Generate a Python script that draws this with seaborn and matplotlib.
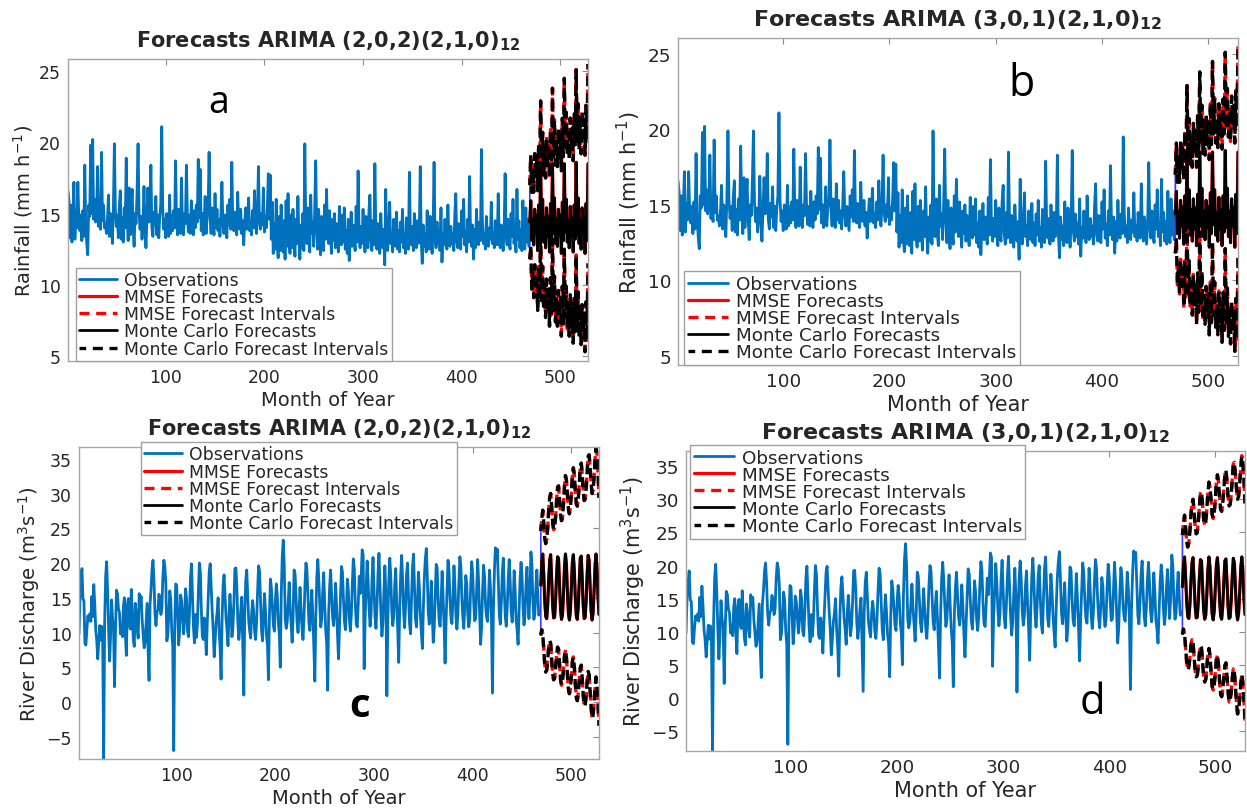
import numpy as np
import matplotlib
matplotlib.use("Agg")
import matplotlib.pyplot as plt
import seaborn as sns

# ---------------- data ----------------
# monthly rainfall observations, months 1..468
rain_obs = [
    16.6, 15.9, 13.3, 15.6, 13.0, 14.8, 17.2, 13.2, 15.1, 14.0, 17.2, 14.6,
    13.8, 14.9, 13.1, 15.2, 13.4, 18.4, 14.2, 12.9, 12.1, 15.6, 14.8, 19.8,
    15.0, 20.2, 14.6, 16.0, 14.4, 15.2, 18.3, 14.1, 14.8, 13.9, 19.3, 14.5,
    15.6, 14.0, 14.2, 13.6, 14.6, 16.3, 13.4, 15.0, 14.3, 12.9, 15.4, 19.9,
    15.3, 14.1, 14.9, 13.3, 15.5, 16.6, 13.2, 14.7, 13.0, 15.4, 14.0, 18.9,
    14.6, 13.1, 16.8, 13.5, 15.2, 16.7, 14.1, 12.7, 15.0, 14.3, 16.6, 19.9,
    15.1, 13.9, 14.8, 13.2, 14.2, 16.9, 14.0, 12.6, 14.7, 16.8, 14.4, 15.2,
    18.4, 14.0, 13.4, 15.1, 14.2, 16.2, 13.5, 14.9, 13.3, 14.8, 15.6, 21.1,
    15.4, 13.9, 14.6, 13.3, 15.0, 14.1, 13.4, 16.3, 13.6, 14.9, 13.8, 15.2,
    14.0, 18.7, 14.5, 13.5, 15.3, 14.4, 13.6, 17.5, 14.1, 13.5, 15.0, 14.3,
    18.4, 14.8, 13.7, 14.9, 13.6, 15.9, 14.3, 13.5, 15.2, 14.0, 15.6, 14.4,
    18.8, 14.7, 18.1, 13.8, 15.0, 13.5, 14.4, 16.2, 13.6, 14.8, 15.3, 19.3,
    14.6, 13.6, 15.4, 14.2, 13.5, 16.4, 14.0, 15.3, 13.8, 14.6, 13.4, 15.0,
    17.2, 14.3, 13.6, 14.9, 14.1, 13.3, 15.6, 14.2, 16.0, 13.9, 18.6, 14.5,
    13.8, 15.1, 14.0, 13.5, 16.5, 14.3, 13.9, 15.3, 13.6, 14.5, 12.8, 14.2,
    15.4, 13.9, 14.6, 16.1, 13.8, 14.4, 13.5, 15.2, 14.0, 16.6, 14.3, 13.6,
    15.1, 18.3, 14.5, 13.9, 15.0, 14.2, 16.8, 13.7, 14.8, 14.0, 15.4, 17.8,
    14.6, 17.7, 13.2, 15.8, 12.2, 14.3, 12.5, 16.0, 12.8, 11.9, 14.8, 12.4,
    15.6, 13.0, 12.3, 14.5, 11.8, 15.9, 12.7, 16.4, 13.1, 12.2, 14.9, 12.6,
    15.3, 13.4, 12.0, 14.6, 12.9, 16.2, 13.3, 11.8, 14.2, 12.6, 15.0, 12.4,
    19.9, 14.1, 12.9, 15.4, 13.2, 12.3, 16.3, 13.6, 14.4, 12.7, 15.1, 18.7,
    14.0, 12.5, 15.3, 13.4, 12.1, 14.8, 13.0, 12.4, 15.6, 13.2, 16.7, 13.8,
    12.9, 15.2, 13.5, 12.2, 14.6, 13.1, 15.0, 12.6, 14.3, 13.4, 12.3, 15.5,
    13.2, 12.8, 14.9, 13.0, 15.4, 12.5, 13.8, 12.2, 14.6, 11.7, 13.5, 15.1,
    12.7, 14.2, 13.3, 12.4, 15.5, 13.0, 18.0, 13.6, 12.6, 14.1, 12.9, 15.3,
    13.4, 12.3, 14.8, 13.0, 12.6, 15.2, 16.3, 13.1, 12.4, 14.5, 12.8, 18.5,
    13.7, 12.5, 14.3, 13.1, 12.2, 15.0, 13.4, 12.6, 13.9, 11.4, 16.7, 13.0,
    12.4, 14.0, 15.8, 12.9, 13.6, 12.3, 14.6, 13.2, 12.7, 15.1, 12.5, 13.8,
    12.3, 14.4, 13.0, 15.3, 12.6, 13.5, 12.2, 14.7, 13.3, 12.5, 17.9, 13.4,
    12.8, 14.1, 12.4, 15.0, 13.2, 12.6, 14.5, 12.9, 13.7, 18.3, 13.1, 11.5,
    14.2, 12.7, 13.6, 12.3, 15.2, 13.0, 12.5, 14.8, 13.4, 12.2, 14.0, 18.6,
    13.3, 12.6, 14.4, 12.9, 13.8, 12.4, 15.4, 11.6, 13.5, 12.8, 14.6, 13.1,
    12.5, 15.6, 13.2, 12.7, 14.1, 12.9, 13.6, 12.4, 14.9, 16.4, 13.0, 12.6,
    14.3, 13.1, 12.5, 15.2, 13.4, 16.0, 12.8, 13.7, 12.3, 14.6, 13.0, 17.6,
    13.5, 12.7, 14.2, 11.8, 13.9, 12.6, 15.3, 13.2, 12.8, 14.4, 13.1, 19.5,
    14.4, 12.9, 13.6, 12.5, 14.8, 13.3, 12.7, 14.0, 13.2, 15.8, 12.9, 13.6,
    12.6, 14.5, 13.2, 12.8, 16.4, 13.5, 12.6, 14.2, 13.3, 12.4, 13.9, 17.8,
    13.6, 12.8, 14.6, 13.1, 12.5, 15.0, 13.4, 16.0, 12.9, 13.7, 12.3, 16.7,
    13.2, 14.5, 12.6, 13.9, 12.4, 15.9, 13.3, 12.5, 15.4, 13.0, 14.6, 12.7,
]

# rainfall forecasts, months 469..528
rain_fc = [
    14.4, 15.9, 13.1, 14.6, 12.8, 15.3, 13.6, 14.9, 12.4, 15.6, 13.3, 18.4,
    13.5, 16.0, 13.0, 14.7, 12.6, 15.4, 13.4, 14.8, 12.3, 15.7, 13.2, 18.5,
    13.6, 16.1, 12.9, 14.6, 12.7, 15.3, 13.5, 14.9, 12.2, 15.8, 13.1, 18.5,
    13.7, 16.0, 13.0, 14.5, 12.6, 15.5, 13.4, 14.7, 12.3, 15.6, 13.2, 18.6,
    13.5, 16.1, 12.9, 14.6, 12.5, 15.4, 13.6, 14.8, 12.2, 15.7, 13.1, 18.5,
]
rain_hi = [
    17.0, 19.1, 16.5, 18.2, 16.5, 19.2, 17.6, 19.0, 16.6, 19.9, 17.7, 22.9,
    18.1, 20.7, 17.7, 19.5, 17.5, 20.4, 18.4, 19.9, 17.5, 20.9, 18.5, 23.8,
    19.0, 21.6, 18.4, 20.2, 18.3, 21.0, 19.2, 20.7, 18.0, 21.7, 19.0, 24.5,
    19.7, 22.1, 19.1, 20.7, 18.8, 21.7, 19.7, 21.0, 18.7, 22.0, 19.7, 25.1,
    20.0, 22.7, 19.5, 21.3, 19.2, 22.2, 20.4, 21.6, 19.1, 22.6, 20.1, 25.5,
]
rain_lo = [
    11.8, 12.7, 9.7, 11.0, 9.1, 11.4, 9.6, 10.8, 8.2, 11.3, 8.9, 13.9,
    8.9, 11.3, 8.3, 9.9, 7.7, 10.4, 8.4, 9.7, 7.1, 10.5, 7.9, 13.2,
    8.2, 10.6, 7.4, 9.0, 7.1, 9.6, 7.8, 9.1, 6.4, 9.9, 7.2, 12.5,
    7.7, 9.9, 6.9, 8.3, 6.4, 9.3, 7.1, 8.4, 5.9, 9.2, 6.7, 12.1,
    7.0, 9.5, 6.3, 7.9, 5.8, 8.6, 6.8, 8.0, 5.3, 8.8, 6.1, 11.5,
]

# monthly river discharge observations, months 1..468
flow_obs = [
    9.8, 15.0, 17.5, 19.2, 14.8, 14.6, 8.4, 8.2, 10.5, 12.4, 11.8, 12.7,
    11.6, 15.2, 12.3, 16.9, 14.0, 10.3, 8.8, 6.2, 8.6, 11.0, 8.9, 10.9,
    8.8, -8.2, 11.5, 18.1, 20.2, 16.0, 10.5, 5.9, 9.5, 14.7, 12.0, 10.8,
    2.2, 10.4, 16.1, 15.6, 13.4, 12.9, 9.8, 11.0, 9.4, 13.8, 15.0, 9.6,
    6.7, 13.9, 14.9, 11.2, 10.5, 16.2, 12.6, 9.1, 8.0, 14.2, 12.8, 10.4,
    9.2, 15.6, 14.3, 15.2, 11.8, 9.7, 7.8, 8.5, 11.3, 14.2, 7.6, 3.1,
    14.1, 16.2, 19.1, 20.4, 17.4, 12.7, 11.0, 12.9, 13.2, 15.5, 14.8, 12.6,
    13.5, 18.0, 20.4, 19.5, 17.0, 8.8, 9.7, 12.5, 16.0, 14.8, 10.2, 8.0,
    -7.0, 11.0, 17.0, 16.8, 12.7, 8.2, 10.4, 15.4, 14.6, 12.3, 9.8, 11.7,
    16.3, 14.9, 10.2, 9.4, 13.0, 18.0, 19.9, 15.1, 10.8, 8.5, 12.6, 9.3,
    11.2, 16.0, 20.0, 18.6, 13.2, 9.4, 9.0, 12.1, 10.5, 6.8, 11.4, 15.2,
    18.9, 19.9, 16.4, 13.0, 10.3, 6.5, 8.9, 11.6, 12.9, 15.0, 10.4, 7.7,
    3.3, 11.8, 16.7, 18.3, 15.4, 12.1, 10.4, 8.1, 12.6, 15.5, 12.8, 9.4,
    10.8, 14.3, 19.2, 19.3, 16.5, 11.4, 9.0, 10.7, 13.4, 15.1, 8.4, 1.0,
    12.9, 17.5, 19.0, 15.2, 11.6, 10.2, 9.2, 12.8, 14.6, 13.0, 10.1, 9.0,
    11.6, 16.0, 19.6, 18.8, 14.4, 10.3, 8.8, 12.4, 15.6, 13.1, 9.6, 8.2,
    3.2, 12.5, 17.7, 16.4, 13.6, 11.0, 10.2, 14.5, 17.0, 15.2, 11.4, 9.8,
    5.0, 15.6, 21.0, 23.3, 19.8, 12.0, 10.6, 11.5, 14.4, 17.2, 13.6, 11.0,
    8.6, 12.4, 19.0, 18.4, 14.9, 11.5, 10.0, 12.8, 16.5, 13.4, 10.6, 9.0,
    12.0, 16.8, 20.0, 19.1, 15.3, 11.4, 10.3, 13.7, 16.1, 12.3, 8.0, 3.0,
    12.2, 17.9, 20.5, 17.8, 14.0, 10.8, 11.9, 15.9, 18.6, 14.2, 10.5, 8.4,
    1.7, 12.6, 16.6, 19.0, 15.5, 12.2, 11.0, 13.0, 17.1, 14.0, 9.6, 6.2,
    10.8, 15.3, 19.5, 18.7, 14.9, 11.6, 10.4, 13.6, 17.7, 16.0, 11.9, 10.2,
    12.5, 17.0, 20.6, 19.2, 14.3, 11.2, 10.8, 14.1, 18.1, 15.6, 18.2, 21.9,
    21.2, 4.8, 12.1, 16.4, 20.3, 17.5, 13.4, 10.9, 12.6, 17.8, 20.8, 16.2,
    12.2, 10.6, 13.9, 18.4, 21.4, 17.0, 12.6, 9.5, 11.4, 15.8, 19.6, 15.5,
    0.9, 11.8, 17.6, 20.7, 18.0, 13.1, 11.0, 12.4, 16.9, 19.2, 14.3, 10.5,
    5.7, 13.3, 18.3, 21.1, 17.6, 12.9, 10.7, 13.8, 18.5, 20.0, 15.2, 11.3,
    9.8, 14.9, 19.4, 21.3, 16.8, 12.0, 10.8, 14.2, 18.7, 16.4, 12.5, 9.9,
    7.7, 13.5, 18.0, 20.6, 22.1, 18.0, 12.8, 11.2, 14.1, 17.4, 12.6, 8.6,
    10.6, 15.4, 19.8, 19.3, 14.6, 11.6, 10.9, 14.5, 18.8, 15.2, 11.0, 5.6,
    11.4, 16.2, 20.4, 18.9, 14.8, 12.0, 11.3, 15.0, 19.6, 16.7, 12.4, 10.5,
    12.7, 17.4, 20.9, 19.5, 15.1, 12.1, 10.6, 13.9, 18.2, 16.9, 12.6, 10.8,
    11.9, 16.8, 20.2, 18.4, 14.4, 11.7, 12.0, 16.1, 20.5, 17.3, 12.8, 8.3,
    10.7, 15.9, 19.7, 18.1, 14.0, 12.3, 11.6, 14.9, 19.0, 16.5, 12.1, 1.3,
    13.4, 18.7, 22.2, 21.3, 22.0, 17.2, 12.4, 11.2, 14.3, 18.6, 20.7, 16.0,
    12.3, 10.9, 13.6, 17.8, 20.5, 17.4, 13.0, 11.5, 14.0, 18.9, 16.1, 11.8,
    10.4, 8.3, 13.2, 17.6, 20.1, 18.2, 13.7, 11.1, 12.6, 16.8, 19.4, 15.3,
    12.0, 15.6, 21.6, 19.8, 14.6, 11.9, 12.7, 16.4, 19.0, 15.2, 12.5, 13.0,
]

# river discharge forecasts, months 469..528
flow_fc = [
    16.8, 20.2, 21.3, 18.4, 14.6, 12.3, 12.0, 13.9, 17.5, 20.4, 21.2, 17.8,
    13.9, 12.1, 12.2, 14.6, 18.3, 20.9, 20.7, 16.9, 13.3, 11.9, 12.5, 15.6,
    19.4, 21.3, 19.8, 15.8, 12.7, 11.8, 13.1, 16.6, 20.1, 21.2, 18.9, 14.9,
    12.4, 11.9, 13.8, 17.4, 20.7, 21.0, 17.7, 13.9, 12.0, 12.2, 14.7, 18.5,
    21.1, 20.4, 16.6, 13.1, 11.8, 12.8, 15.9, 19.6, 21.3, 19.2, 15.0, 12.6,
]
flow_hi = [
    24.6, 26.4, 27.6, 25.8, 23.6, 22.8, 23.4, 25.0, 27.6, 29.4, 30.0, 28.2,
    25.9, 24.8, 25.0, 26.6, 29.0, 30.9, 31.1, 29.2, 27.0, 26.1, 26.5, 28.5,
    31.0, 32.6, 31.9, 29.8, 27.7, 27.1, 27.9, 30.0, 32.5, 33.7, 32.7, 30.4,
    28.5, 28.2, 29.3, 31.4, 33.7, 34.4, 32.8, 30.4, 29.0, 29.2, 30.7, 33.1,
    35.4, 35.6, 33.8, 31.5, 30.0, 30.5, 32.4, 34.9, 36.6, 35.6, 33.0, 29.4,
]
flow_lo = [
    9.6, 10.4, 9.8, 7.6, 5.4, 4.3, 4.6, 6.0, 7.9, 8.8, 8.5, 6.2,
    4.1, 3.2, 3.4, 4.8, 6.7, 7.9, 7.6, 5.5, 3.3, 2.4, 2.8, 4.6,
    6.6, 7.5, 6.4, 4.0, 1.8, 1.2, 1.9, 3.8, 5.8, 6.5, 5.1, 2.6,
    0.6, 0.2, 1.2, 3.1, 4.9, 5.3, 3.4, 1.0, -0.6, -0.5, 0.9, 3.0,
    4.4, 3.9, 1.6, -0.8, -2.4, -1.9, -0.1, 2.1, 3.6, 2.3, -0.4, -3.4,
]

titles = ["Forecasts ARIMA (2,0,2)(2,1,0)$_{\\mathbf{12}}$",
          "Forecasts ARIMA (3,0,1)(2,1,0)$_{\\mathbf{12}}$",
          "Forecasts ARIMA (2,0,2)(2,1,0)$_{\\mathbf{12}}$",
          "Forecasts ARIMA (3,0,1)(2,1,0)$_{\\mathbf{12}}$"]
rain_label = "Rainfall (mm h$^{-1}$)"
flow_label = "River Discharge (m$^3$s$^{-1}$)"

# ---------------- style ----------------
sns.set_theme(style="white")
plt.rcParams["font.family"] = ["DejaVu Sans"]
plt.rcParams["mathtext.fontset"] = "dejavusans"

BLUE = "#0072BD"
W, H = 1247, 812
fig = plt.figure(figsize=(W / 100, H / 100), dpi=100)

# pixel boxes (left, top, right, bottom) of the four axes
panels = [
    dict(box=(68, 60, 588, 362), obs=rain_obs, fc=(rain_fc, rain_lo, rain_hi),
         ylabel=rain_label, ylim=(4.65, 25.85), yticks=[5, 10, 15, 20, 25],
         leg=("lower left", (0.015, 0.0)), letter=("a", 219, 103, 27, "normal"), s=1.0),
    dict(box=(678, 39, 1238, 366), obs=rain_obs, fc=(rain_fc, rain_lo, rain_hi),
         ylabel=rain_label, ylim=(4.4, 26.05), yticks=[5, 10, 15, 20, 25],
         leg=("lower left", (0.011, 0.0)), letter=("b", 1022, 85, 31, "normal"), s=1.07),
    dict(box=(79, 448, 599, 760), obs=flow_obs, fc=(flow_fc, flow_lo, flow_hi),
         ylabel=flow_label, ylim=(-8.2, 36.7), yticks=[-5, 0, 5, 10, 15, 20, 25, 30, 35],
         leg=("upper left", (0.119, 1.016)), letter=("c", 360, 707, 29, "bold"), s=1.0),
    dict(box=(686, 452, 1245, 752), obs=flow_obs, fc=(flow_fc, flow_lo, flow_hi),
         ylabel=flow_label, ylim=(-8.0, 37.3), yticks=[-5, 0, 5, 10, 15, 20, 25, 30, 35],
         leg=("upper left", (0.007, 1.02)), letter=("d", 1092, 703, 30, "normal"), s=1.07),
]

for p, title in zip(panels, titles):
    l, t, r, b = p["box"]
    s = p["s"]
    ax = fig.add_axes([l / W, (H - b) / H, (r - l) / W, (b - t) / H])

    obs = np.array(p["obs"])
    fc, lo, hi = (np.array(v) for v in p["fc"])
    m_obs = np.arange(1, len(obs) + 1)
    m_fc = np.arange(len(obs) + 1, len(obs) + len(fc) + 1)

    sns.lineplot(x=m_obs, y=obs, ax=ax, color=BLUE, lw=2.0, label="Observations", errorbar=None)
    # thin blue joint at the forecast origin
    sns.lineplot(x=[m_fc[0], m_fc[0] + 0.01], y=[lo[0], hi[0]], ax=ax, color="#3a3aff",
                 lw=1.2, errorbar=None, sort=False)
    # MMSE (red) underneath, Monte Carlo (black) on top
    sns.lineplot(x=m_fc, y=fc, ax=ax, color="red", lw=2.3, label="MMSE Forecasts", errorbar=None)
    sns.lineplot(x=m_fc, y=hi, ax=ax, color="red", lw=2.4, ls=(0, (3, 2)),
                 label="MMSE Forecast Intervals", errorbar=None)
    sns.lineplot(x=m_fc, y=lo, ax=ax, color="red", lw=2.4, ls=(0, (3, 2)), errorbar=None)
    sns.lineplot(x=m_fc, y=fc, ax=ax, color="black", lw=2.0, label="Monte Carlo Forecasts", errorbar=None)
    sns.lineplot(x=m_fc, y=hi, ax=ax, color="black", lw=2.4, ls=(1.0, (3, 2)),
                 label="Monte Carlo Forecast Intervals", errorbar=None)
    sns.lineplot(x=m_fc, y=lo, ax=ax, color="black", lw=2.4, ls=(1.0, (3, 2)), errorbar=None)

    ax.set_xlim(1, len(obs) + len(fc))
    ax.set_ylim(*p["ylim"])
    ax.set_xticks([100, 200, 300, 400, 500])
    ax.set_yticks(p["yticks"])
    ax.tick_params(direction="in", top=True, right=True, length=4, width=0.8,
                   color="#8c8c8c", labelcolor="#262626", labelsize=12.4 * s, pad=5)
    for sp in ax.spines.values():
        sp.set_color("#a6a6a6")
        sp.set_linewidth(1.0)

    ax.set_xlabel("Month of Year", fontsize=14 * s, color="#262626", labelpad=3)
    ax.set_ylabel(p["ylabel"], fontsize=14 * s, color="#262626", labelpad=3)
    ax.set_title(title, fontsize=15 * s, fontweight="bold", pad=9)

    loc, anchor = p["leg"]
    leg = ax.legend(loc=loc, bbox_to_anchor=anchor, fontsize=12.4 * s, frameon=True,
                    fancybox=False, framealpha=1, edgecolor="#a0a0a0",
                    handlelength=2.2, handletextpad=0.4, labelspacing=-0.05,
                    borderpad=0.2, borderaxespad=0)
    leg.get_frame().set_linewidth(1.0)

    txt, x, y, fs, fw = p["letter"]
    fig.text(x / W, 1 - y / H, txt, fontsize=fs, fontweight=fw,
             family=["Open Sans", "DejaVu Sans"], ha="center", va="center", color="black")

fig.savefig("out.png", dpi=100)
